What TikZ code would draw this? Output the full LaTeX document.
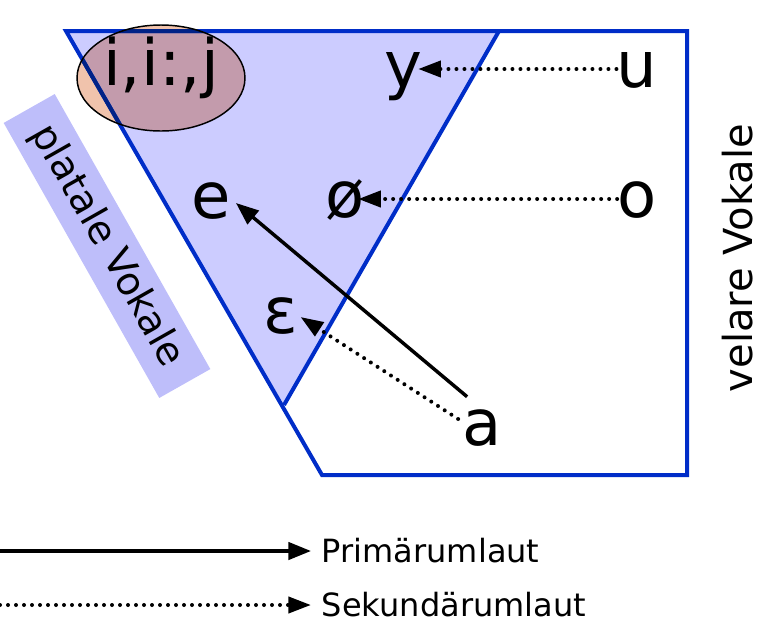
\documentclass[tikz,border=0pt]{standalone}
\usepackage{fontspec}
\setmainfont{DejaVu Sans}
\usetikzlibrary{arrows.meta}
\definecolor{kante}{RGB}{0,45,200}
\definecolor{kantedunkel}{RGB}{0,34,135}
\definecolor{palatal}{RGB}{204,204,255}
\definecolor{kasten}{RGB}{190,190,250}
\definecolor{ifeld}{RGB}{240,195,172}
\definecolor{ifeldpal}{RGB}{195,155,172}
\tikzset{
  laut/.style={font=\fontsize{48}{48}\selectfont, inner sep=0pt, text height=27pt, text depth=0pt},
  legende/.style={font=\fontsize{24}{24}\selectfont, inner sep=0pt, inner xsep=8pt, anchor=west},
  seite/.style={font=\fontsize{30}{30}\selectfont, inner sep=0pt},
  kantenlinie/.style={line width=3pt, kante},
  primaer/.style={line width=2.6pt, -{Triangle[length=17pt, width=13pt]}},
  sekundaer/.style={line width=3pt, line cap=round, dash pattern=on 0pt off 6pt, -{Triangle[length=17pt, width=12pt]}}
}
\begin{document}
\begin{tikzpicture}[x = .75pt, y = -.75pt]
  \useasboundingbox (0,0) rectangle (758,619);
  % Flaechen
  \fill[palatal] (66,31) -- (499,31) -- (284,405) -- cycle;
  \node[seite, font=\fontsize{29}{29}\selectfont, fill=kasten, rotate=-60.5, minimum width=237pt, minimum height=44pt] (pal) at (107,246) {platale Vokale};
  \fill[ifeld] (161,78) ellipse [x radius=84, y radius=53];
  \begin{scope}
    \clip (66,31) -- (499,31) -- (284,405) -- cycle;
    \fill[ifeldpal] (161,78) ellipse [x radius=84, y radius=53];
  \end{scope}
  % Kanten
  \draw[kantenlinie] (66,31) -- (687,31) -- (687,475) -- (322,475) -- cycle;
  \draw[kantenlinie] (499,31) -- (284,405);
  \begin{scope}
    \clip (161,78) ellipse [x radius=84, y radius=53];
    \draw[kantenlinie, draw=kantedunkel] (66,31) -- (687,31) -- (687,475) -- (322,475) -- cycle;
  \end{scope}
  \draw[line width=1.1pt] (161,78) ellipse [x radius=84, y radius=53];
  \node[laut, anchor=base, font=\fontsize{48}{48}\selectfont] (ij) at (161,85) {i,i:,j};
  % Laute
  \node[laut, anchor=base] (u) at (637,87) {u};
  \node[laut, anchor=base] (y) at (403,87) {y};
  \node[laut, anchor=base] (o) at (637,217) {o};
  \node[laut, anchor=base] (oe) at (345,217) {ø};
  \node[laut, anchor=base] (e) at (211,218) {e};
  \node[laut, anchor=base] (eps) at (281,333) {ɛ};
  \node[laut, anchor=base] (a) at (482,445) {a};
  \node[seite, rotate=90, anchor=base] (vel) at (752,258) {velare Vokale};
  % Umlaute
  \draw[sekundaer, shorten >=-3pt] (u) -- (y);
  \draw[sekundaer, shorten >=-5pt] (o) -- (oe);
  \draw[primaer] ([shift={(5,-12)}]a.north west) -- ([shift={(5,3)}]e.east);
  \draw[sekundaer] ([shift={(-4,-8)}]a.west) -- ([shift={(2,2)}]eps.east);
  % Legende
  \node[legende] (prim) at (311,551) {Primärumlaut};
  \node[legende] (sek) at (311,605) {Sekundärumlaut};
  \coordinate (prim0) at (0,551);
  \coordinate (sek0) at (0,605);
  \draw[primaer] (prim0) -- (prim.west);
  \draw[sekundaer] (sek0) -- (sek.west);
\end{tikzpicture}
\end{document}
